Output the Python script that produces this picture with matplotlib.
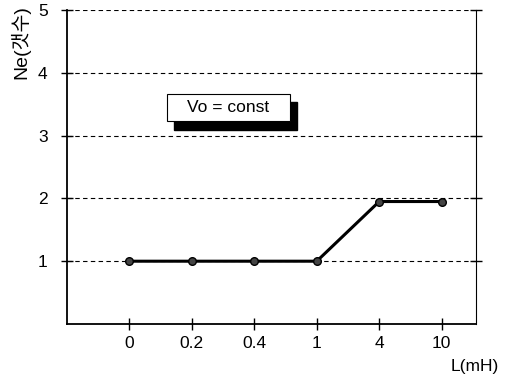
import matplotlib
matplotlib.use("Agg")
import matplotlib.pyplot as plt
from matplotlib.patches import Rectangle

categories = ["0", "0.2", "0.4", "1", "4", "10"]
ne_values = [1, 1, 1, 1, 1.95, 1.95]
y_ticks = [1, 2, 3, 4, 5]

plt.rcParams['font.family'] = ['Liberation Sans', 'Noto Sans CJK KR', 'DejaVu Sans']

fig = plt.figure(figsize=(5.09, 3.79), dpi=100)
ax = fig.add_axes([67/509, 1-324/379, 409/509, 314/379])

x = list(range(len(categories)))
ax.plot(x, ne_values, color='black', lw=2.2, marker='o', ms=5.5, mfc='#444444', mec='black', mew=1)

ax.set_xlim(-1.0, 5.55)
ax.set_ylim(0, 5)
ax.set_xticks(x)
ax.set_xticklabels(categories, fontsize=12.5)
ax.set_yticks(y_ticks)
ax.set_yticklabels([str(v) for v in y_ticks], fontsize=12.5)
for yv in y_ticks:
    ax.axhline(yv, color='black', ls=(0, (4, 3)), lw=0.8, zorder=0)

ax.spines['top'].set_visible(False)
ax.spines['right'].set_linestyle((0, (1, 1)))
ax.spines['right'].set_linewidth(0.8)
ax.spines['left'].set_linewidth(1.3)
ax.spines['bottom'].set_linewidth(1.3)
ax.tick_params(axis='both', direction='inout', length=8, width=1, colors='black')
ax.tick_params(axis='y', right=True, pad=10)
ax.tick_params(axis='x', pad=5)

fig.text(20/509, 1-42/379, "Ne(갯수)", rotation=90, ha='center', va='center', fontsize=14,
         family=['Liberation Sans', 'Noto Sans CJK KR'])
fig.text(475/509, 1-366/379, "L(mH)", ha='center', va='center', fontsize=12.5)

# annotation box with shadow
ax.add_patch(Rectangle((0.262, 0.618), 0.30, 0.088, transform=ax.transAxes,
                       facecolor='black', edgecolor='black', zorder=3))
ax.add_patch(Rectangle((0.245, 0.645), 0.30, 0.088, transform=ax.transAxes,
                       facecolor='white', edgecolor='black', lw=0.8, zorder=4))
ax.text(0.395, 0.689, "Vo = const", transform=ax.transAxes, ha='center', va='center',
        fontsize=12.5, zorder=5)

fig.savefig("out.png", dpi=100)
